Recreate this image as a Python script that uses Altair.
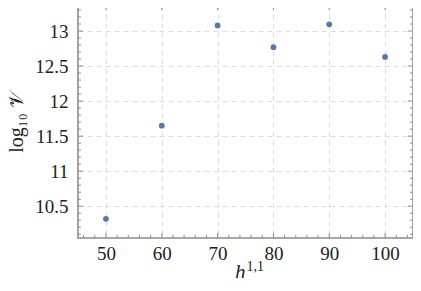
import altair as alt
import pandas as pd

# data
h11 = [50, 60, 70, 80, 90, 100]
log10V = [10.32, 11.65, 13.08, 12.77, 13.095, 12.63]

x_major = [50, 60, 70, 80, 90, 100]
x_minor = [46, 48, 52, 54, 56, 58, 62, 64, 66, 68, 72, 74, 76, 78, 82, 84, 86, 88,
           92, 94, 96, 98, 102, 104]
y_major = [10.5, 11.0, 11.5, 12.0, 12.5, 13.0]
y_minor = [10.1, 10.2, 10.3, 10.4, 10.6, 10.7, 10.8, 10.9, 11.1, 11.2, 11.3, 11.4,
           11.6, 11.7, 11.8, 11.9, 12.1, 12.2, 12.3, 12.4, 12.6, 12.7, 12.8, 12.9,
           13.1, 13.2, 13.3]

W, H = 335, 233
XDOM = [45, 105]
YDOM = [10.047, 13.371]
FRAME = "#8c8c8c"
FONT = "Liberation Serif"
TXT = "#222222"

df = pd.DataFrame({"h": h11, "v": log10V})
xs = alt.Scale(domain=XDOM, nice=False, zero=False)
ys = alt.Scale(domain=YDOM, nice=False, zero=False)

xaxis = alt.Axis(values=x_major, title=None, labelPadding=6)
yaxis = alt.Axis(values=y_major, title="log₁₀ 𝒱",
                 labelExpr="datum.value == 11 || datum.value == 12 || datum.value == 13 ? format(datum.value, 'd') : format(datum.value, '.1f')",
                 labelPadding=10, titlePadding=8)

points = alt.Chart(df).mark_circle(size=34, color="#5877b3", opacity=1).encode(
    x=alt.X("h:Q", scale=xs, axis=xaxis),
    y=alt.Y("v:Q", scale=ys, axis=yaxis),
)

def xticks(vals, length):
    d = pd.DataFrame({"t": vals})
    base = alt.Chart(d)
    bot = base.mark_rule(color=FRAME, strokeWidth=1).encode(
        x=alt.X("t:Q", scale=xs, axis=xaxis), y=alt.value(H), y2=alt.value(H - length))
    top = base.mark_rule(color=FRAME, strokeWidth=1).encode(
        x=alt.X("t:Q", scale=xs, axis=xaxis), y=alt.value(0), y2=alt.value(length))
    return [bot, top]

def yticks(vals, length):
    d = pd.DataFrame({"t": vals})
    base = alt.Chart(d)
    left = base.mark_rule(color=FRAME, strokeWidth=1).encode(
        y=alt.Y("t:Q", scale=ys, axis=yaxis), x=alt.value(0), x2=alt.value(length))
    right = base.mark_rule(color=FRAME, strokeWidth=1).encode(
        y=alt.Y("t:Q", scale=ys, axis=yaxis), x=alt.value(W), x2=alt.value(W - length))
    return [left, right]

layers = [points]
layers += xticks(x_major, 5) + xticks(x_minor, 3)
layers += yticks(y_major, 5) + yticks(y_minor, 3)

# x-axis title h^{1,1}
lab = pd.DataFrame({"a": [0]})
xt_h = alt.Chart(lab).mark_text(text="h", font=FONT, fontSize=21, fontStyle="italic",
                                 align="right", baseline="alphabetic", color=TXT).encode(
    x=alt.value(W / 2), y=alt.value(H + 41))
xt_s = alt.Chart(lab).mark_text(text="1,1", font=FONT, fontSize=14,
                                 align="left", baseline="alphabetic", color=TXT).encode(
    x=alt.value(W / 2 + 1), y=alt.value(H + 33))
layers += [xt_h, xt_s]

chart = alt.layer(*layers).properties(
    width=W, height=H,
    autosize=alt.AutoSizeParams(type="none"),
    padding={"left": 70, "top": -3, "right": 0, "bottom": 40},
).configure_view(
    stroke=FRAME, strokeWidth=1.6
).configure_axis(
    labelFont=FONT, labelFontSize=19, labelColor=TXT,
    titleFont=FONT, titleFontSize=20, titleFontWeight="normal", titleColor=TXT,
    tickSize=0, domain=False, grid=True, gridDash=[5, 4],
    gridColor="#dcdcdc", gridWidth=1,
)

chart.save("out.html", embed_options={"renderer": "svg", "actions": False})
